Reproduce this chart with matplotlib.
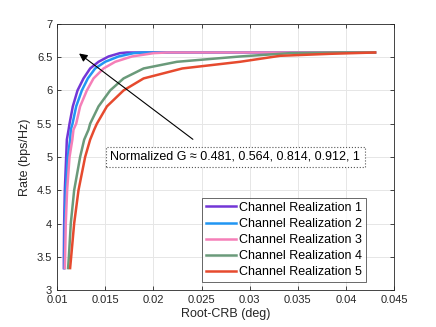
import matplotlib
matplotlib.use("Agg")
import matplotlib.pyplot as plt

plt.rcParams['font.family'] = ['Liberation Sans', 'DejaVu Sans']

# Root-CRB (deg) / Rate (bps/Hz)
crb_1 = [0.01070, 0.01070, 0.01073, 0.01080, 0.01094, 0.01101, 0.01119, 0.01129, 0.01163,
         0.01212, 0.01274, 0.01343, 0.01430, 0.01534, 0.01652, 0.01725, 0.043]
rate_1 = [3.33, 3.5, 4.0, 4.5, 5.0, 5.26, 5.41, 5.50, 5.76, 6.00, 6.18, 6.33, 6.43, 6.51, 6.56, 6.57, 6.57]

crb_2 = [0.01076, 0.01077, 0.01080, 0.01090, 0.01111, 0.01135, 0.01142, 0.01160, 0.01198,
         0.01257, 0.01319, 0.01395, 0.01499, 0.01638, 0.01794, 0.01898, 0.043]
rate_2 = [3.33, 3.5, 4.0, 4.5, 5.0, 5.26, 5.41, 5.50, 5.76, 6.00, 6.18, 6.33, 6.43, 6.51, 6.56, 6.57, 6.57]

crb_3 = [0.01080, 0.01083, 0.01090, 0.01104, 0.01129, 0.01158, 0.01170, 0.01198, 0.01239,
         0.01309, 0.01378, 0.01482, 0.01603, 0.01777, 0.02002, 0.02140, 0.043]
rate_3 = [3.33, 3.5, 4.0, 4.5, 5.0, 5.26, 5.41, 5.50, 5.76, 6.00, 6.18, 6.33, 6.43, 6.51, 6.56, 6.57, 6.57]

crb_4 = [0.01114, 0.01122, 0.01142, 0.01177, 0.01239, 0.01281, 0.01326, 0.01343, 0.01430,
         0.01551, 0.01690, 0.01898, 0.02244, 0.02899, 0.03419, 0.03939, 0.043]
rate_4 = [3.33, 3.5, 4.0, 4.5, 5.0, 5.26, 5.41, 5.50, 5.76, 6.00, 6.18, 6.33, 6.43, 6.51, 6.56, 6.57, 6.57]

crb_5 = [0.01135, 0.01146, 0.01177, 0.01222, 0.01291, 0.01343, 0.01385, 0.01413, 0.01517,
         0.01690, 0.01898, 0.02300, 0.02899, 0.03315, 0.03835, 0.04303]
rate_5 = [3.33, 3.5, 4.0, 4.5, 5.0, 5.26, 5.41, 5.50, 5.76, 6.00, 6.18, 6.33, 6.43, 6.52, 6.55, 6.57]

labels = ['Channel Realization 1', 'Channel Realization 2', 'Channel Realization 3',
          'Channel Realization 4', 'Channel Realization 5']
colors = ['#7336d6', '#2196f3', '#f57fb8', '#6a9a7a', '#e64a2e']

fig = plt.figure(figsize=(4.36, 3.27), dpi=100)
ax = fig.add_axes([0.131, 0.113, 0.773, 0.814])

curves = [(crb_1, rate_1), (crb_2, rate_2), (crb_3, rate_3), (crb_4, rate_4), (crb_5, rate_5)]
for (x, y), lab, c in zip(curves, labels, colors):
    ax.plot(x, y, color=c, lw=1.8, label=lab, solid_joinstyle='round')

ax.set_xlim(0.01, 0.045)
ax.set_ylim(3, 7)
ax.set_xticks([0.01, 0.015, 0.02, 0.025, 0.03, 0.035, 0.04, 0.045])
ax.set_xticklabels(['0.01', '0.015', '0.02', '0.025', '0.03', '0.035', '0.04', '0.045'])
ax.set_yticks([3, 3.5, 4, 4.5, 5, 5.5, 6, 6.5, 7])
ax.set_yticklabels(['3', '3.5', '4', '4.5', '5', '5.5', '6', '6.5', '7'])
ax.grid(True, color='#e6e6e6', lw=0.7)
ax.set_axisbelow(True)
ax.tick_params(direction='in', top=True, right=True, labelsize=8, colors='#262626', length=3, width=0.6)
for s in ax.spines.values():
    s.set_color('#262626')
    s.set_linewidth(0.6)
ax.set_xlabel('Root-CRB (deg)', fontsize=9, color='#262626', labelpad=2)
ax.set_ylabel('Rate (bps/Hz)', fontsize=9, color='#262626', labelpad=4)

ax.annotate('', xy=(0.01205, 6.58), xytext=(0.02433, 5.24),
            arrowprops=dict(arrowstyle='-|>', color='black', lw=0.8, mutation_scale=12))
ax.text(0.0285, 5.0, 'Normalized G \u2248 0.481, 0.564, 0.814, 0.912, 1', fontsize=9,
        ha='center', va='center',
        bbox=dict(boxstyle='square,pad=0.35', fc='white', ec='#555555', ls=':', lw=0.8))

leg = ax.legend(loc='lower right', bbox_to_anchor=(0.917, 0.03), fontsize=9, frameon=True,
                fancybox=False, edgecolor='#262626', handlelength=2.4, handletextpad=0.3,
                borderpad=0.3, labelspacing=0.33, borderaxespad=0.0)
leg.get_frame().set_linewidth(0.6)

fig.savefig('out.png', dpi=100)
